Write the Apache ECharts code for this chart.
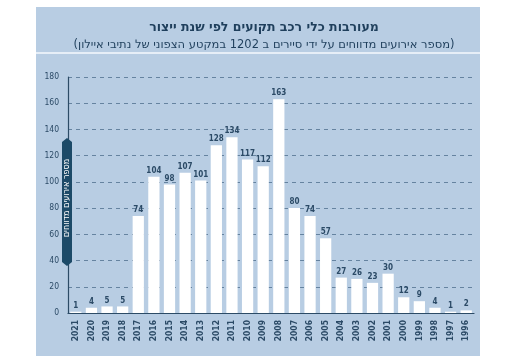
<!DOCTYPE html>
<html><head><meta charset="utf-8">
<script src="https://cdn.jsdelivr.net/npm/echarts@6/dist/echarts.min.js"></script>
<style>html,body{margin:0;padding:0;background:#fff}#c{width:512px;height:358px}</style>
</head><body><div id="c"></div>
<script>
const years = ['2021','2020','2019','2018','2017','2016','2015','2014','2013','2012','2011','2010','2009','2008','2007','2006','2005','2004','2003','2002','2001','2000','1999','1998','1997','1996'];
const incidents = [1,4,5,5,74,104,98,107,101,128,134,117,112,163,80,74,57,27,26,23,30,12,9,4,1,2];
const yTicks = [0,20,40,60,80,100,120,140,160,180];
const titleText = 'מעורבות כלי רכב תקועים לפי שנת ייצור';
const subtitleText = '(מספר אירועים מדווחים על ידי סיירים ב 1202 במקטע הצפוני של נתיבי איילון)';
const yName = 'מספר אירועים מדווחים';

const navy = '#1f3f5c';
const chart = echarts.init(document.getElementById('c'));
chart.setOption({
  animation: false,
  backgroundColor: '#fff',
  graphic: [
    {type:'rect', z:-10, shape:{x:36,y:7,width:444,height:349}, style:{fill:'#b8cde3'}},
    {type:'rect', z:-9, shape:{x:36,y:52,width:444,height:2}, style:{fill:'#e6eef7'}},
    {type:'polygon', z:50, shape:{points:[[67,138],[72,142],[72,262],[67,266],[62,262],[62,142]]}, style:{fill:'#1c4a68'}},
    {type:'text', z:51, x:67, y:198, rotation:Math.PI/2, style:{text:yName, fill:'#fff', font:'9px "DejaVu Sans Condensed", "Liberation Sans", sans-serif', align:'center', verticalAlign:'middle'}}
  ],
  title: {
    text: titleText,
    subtext: subtitleText,
    left: 259, top: 16, textAlign: 'center', itemGap: 5,
    textStyle: {color: navy, fontSize: 12.5, fontWeight: 'bold', fontFamily: '"DejaVu Sans", sans-serif'},
    subtextStyle: {color: navy, fontSize: 11.5, fontFamily: '"DejaVu Sans", sans-serif'}
  },
  grid: {left: 68, right: 38, top: 77, bottom: 45, containLabel: false},
  xAxis: {
    type: 'category', data: years,
    axisLine: {lineStyle: {color: '#2c4b66', width: 1.2}},
    axisTick: {show: false},
    axisLabel: {rotate: 90, margin: 7, color: '#2b4a66', fontSize: 8.5, fontWeight: 'bold', fontFamily: '"DejaVu Sans Condensed", sans-serif'}
  },
  yAxis: {
    type: 'value', min: 0, max: 180, interval: 20,
    axisLine: {show: true, lineStyle: {color: '#2c4b66', width: 1.2}},
    axisTick: {show: false},
    axisLabel: {margin: 9, color: '#2b4a66', fontSize: 8.5, fontFamily: '"DejaVu Sans Condensed", sans-serif',
      formatter: v => yTicks.includes(v) ? String(v) : ''},
    splitLine: {show: true, lineStyle: {color: '#6583a0', type: [4,4], width: 1}}
  },
  series: [{
    type: 'bar', data: incidents, barCategoryGap: '28%',
    itemStyle: {color: '#ffffff'},
    label: {show: true, position: 'top', distance: 2, color: '#2b4a66', fontSize: 8, fontWeight: 'bold', fontFamily: '"DejaVu Sans Condensed", sans-serif'}
  }]
});
</script></body></html>
